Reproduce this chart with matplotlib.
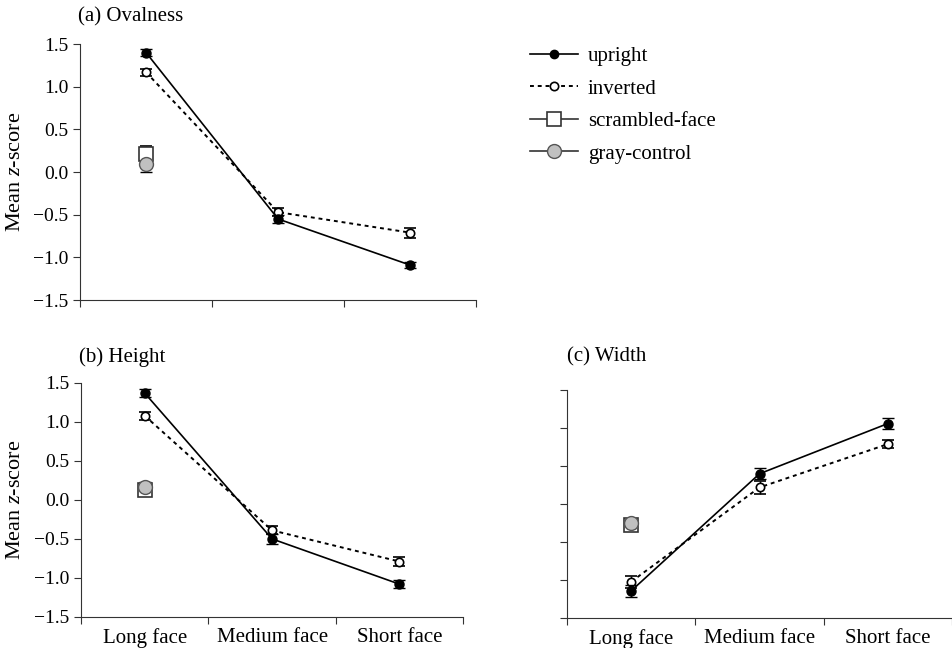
import numpy as np
import matplotlib
matplotlib.use('Agg')
import matplotlib.pyplot as plt
from matplotlib.lines import Line2D

plt.rcParams['font.family'] = ['Liberation Serif', 'DejaVu Serif']
plt.rcParams['mathtext.fontset'] = 'custom'
plt.rcParams['mathtext.rm'] = 'Liberation Serif'
plt.rcParams['mathtext.it'] = 'Liberation Serif:italic'

categories = ['Long face', 'Medium face', 'Short face']
y_ticks = [1.5, 1.0, 0.5, 0.0, -0.5, -1.0, -1.5]
y_labels = ['1.5', '1.0', '0.5', '0.0', '\u22120.5', '\u22121.0', '\u22121.5']

# (a) Ovalness
oval_up = [1.40, -0.55, -1.09]
oval_up_err = [0.04, 0.05, 0.04]
oval_inv = [1.17, -0.47, -0.71]
oval_inv_err = [0.04, 0.05, 0.06]
oval_scr, oval_scr_err = 0.21, 0.09
oval_gray, oval_gray_err = 0.09, 0.09

# (b) Height
height_up = [1.37, -0.50, -1.08]
height_up_err = [0.05, 0.06, 0.05]
height_inv = [1.08, -0.39, -0.79]
height_inv_err = [0.05, 0.05, 0.06]
height_scr, height_scr_err = 0.13, 0.07
height_gray, height_gray_err = 0.16, 0.07

# (c) Width
width_up = [-1.14, 0.40, 1.06]
width_up_err = [0.08, 0.07, 0.07]
width_inv = [-1.02, 0.22, 0.79]
width_inv_err = [0.08, 0.09, 0.05]
width_scr, width_scr_err = -0.27, 0.05
width_gray, width_gray_err = -0.25, 0.05

x = np.arange(1, 4)


def panel(ax, up, up_err, inv, inv_err, scr, scr_err, gray, gray_err,
          show_x=True, show_y=True):
    ax.errorbar(x, inv, yerr=inv_err, color='black', ls=(0, (2, 2)), lw=1.4,
                marker='o', ms=6, mfc='white', mec='black', mew=1.2,
                capsize=4, elinewidth=1, capthick=1, zorder=3)
    ax.errorbar(x, up, yerr=up_err, color='black', ls='-', lw=1.2,
                marker='o', ms=6.5, mfc='black', mec='black',
                capsize=4, elinewidth=1, capthick=1, zorder=4)
    ax.errorbar([1], [scr], yerr=[scr_err], color='black', ls='none',
                marker='s', ms=10, mfc='white', mec='#333333', mew=1.2,
                capsize=4, elinewidth=1, capthick=1, zorder=2)
    ax.errorbar([1], [gray], yerr=[gray_err], color='black', ls='none',
                marker='o', ms=10, mfc='#c0c0c0', mec='#555555', mew=1.0,
                capsize=4, elinewidth=1, capthick=1, zorder=2)
    ax.set_xlim(0.5, 3.5)
    ax.set_ylim(-1.5, 1.5)
    ax.spines['top'].set_visible(False)
    ax.spines['right'].set_visible(False)
    ax.spines['left'].set_color('#333333')
    ax.spines['bottom'].set_color('#333333')
    ax.set_yticks(y_ticks)
    if show_y:
        ax.set_yticklabels(y_labels, fontsize=14)
        ax.set_ylabel('Mean $z$-score', fontsize=16)
    else:
        ax.set_yticklabels([])
    ax.set_xticks([0.5, 1.5, 2.5, 3.5])
    ax.set_xticklabels([])
    ax.set_xticks(x, minor=True)
    if show_x:
        ax.set_xticklabels(categories, minor=True, fontsize=15)
    ax.tick_params(axis='x', which='minor', length=0, pad=8)
    ax.tick_params(axis='both', which='major', direction='out', length=5,
                   color='#333333')


fig = plt.figure(figsize=(9.53, 6.48), dpi=100)
ax1 = fig.add_axes([0.084, 0.537, 0.4155, 0.395])
ax2 = fig.add_axes([0.085, 0.048, 0.401, 0.361])
ax3 = fig.add_axes([0.595, 0.046, 0.404, 0.352])

panel(ax1, oval_up, oval_up_err, oval_inv, oval_inv_err,
      oval_scr, oval_scr_err, oval_gray, oval_gray_err, show_x=False)
panel(ax2, height_up, height_up_err, height_inv, height_inv_err,
      height_scr, height_scr_err, height_gray, height_gray_err)
panel(ax3, width_up, width_up_err, width_inv, width_inv_err,
      width_scr, width_scr_err, width_gray, width_gray_err, show_y=False)

ax1.yaxis.set_label_coords(-0.138, 0.5)
ax2.yaxis.set_label_coords(-0.146, 0.5)

fig.text(78 / 953, 1 - 17 / 648, '(a) Ovalness', fontsize=15, va='center')
fig.text(79 / 953, 1 - 357 / 648, '(b) Height', fontsize=15, va='center')
fig.text(567 / 953, 1 - 357 / 648, '(c) Width', fontsize=15, va='center')

handles = [
    Line2D([], [], color='black', ls='-', lw=1.2, marker='o', ms=6,
           mfc='black'),
    Line2D([], [], color='black', ls=(0, (2, 2)), lw=1.4, marker='o', ms=6,
           mfc='white', mew=1.2),
    Line2D([], [], color='#333333', ls='-', lw=1.2, marker='s', ms=10,
           mfc='white', mew=1.2),
    Line2D([], [], color='#333333', ls='-', lw=1.2, marker='o', ms=10,
           mfc='#c0c0c0', mec='#555555'),
]
labels = ['upright', 'inverted', 'scrambled-face', 'gray-control']
fig.legend(handles, labels, loc='upper left',
           bbox_to_anchor=(520 / 953, 1 - 36 / 648), frameon=False,
           fontsize=15, handlelength=2.3, handletextpad=0.45,
           labelspacing=0.62, borderpad=0)

fig.savefig('out.png', dpi=100)
